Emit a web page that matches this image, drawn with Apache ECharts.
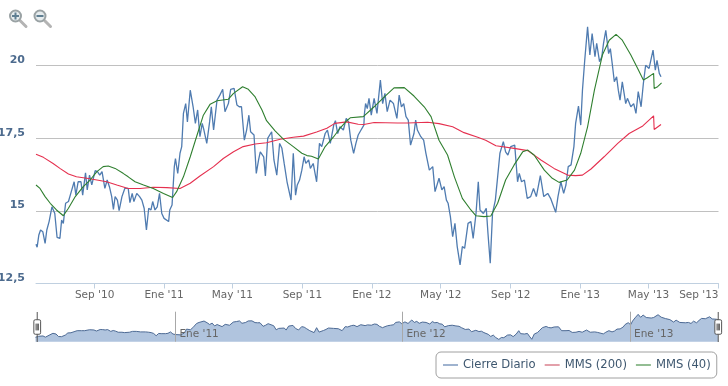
<!DOCTYPE html>
<html>
<head>
<meta charset="utf-8">
<style>
  html, body { margin: 0; padding: 0; background: #fff; }
  #chart { width: 728px; height: 386px; }
</style>
<script src="https://cdn.jsdelivr.net/npm/echarts@6/dist/echarts.min.js"></script>
</head>
<body>
<div id="chart"></div>
<script>
const fechaInicio = '2010-05-21'
const fechaFin = '2013-09-01'
const fechaUltimoDato = '2013-05-24'
const ticksPrincipal = ['2010-09-01', '2011-01-01', '2011-05-01', '2011-09-01', '2012-01-01', '2012-05-01', '2012-09-01', '2013-01-01', '2013-05-01', '2013-09-01']
const ticksNavegador = ['2011-01-01', '2012-01-01', '2013-01-01']
const ticksPrecio = [12.5, 15, 17.5, 20]
const meses = ['Ene', 'Feb', 'Mar', 'Abr', 'May', 'Jun', 'Jul', 'Ago', 'Sep', 'Oct', 'Nov', 'Dic']

// dias desde fechaInicio
const cierreDias = [0, 2, 5, 8, 12, 16, 19, 23, 28, 30, 33, 37, 42, 45, 48, 52, 57, 62, 67, 70, 74, 79, 82, 87, 90, 94, 98, 104, 108, 112, 116, 121, 125, 129, 133, 136, 139, 143, 146, 151, 156, 162, 165, 169, 172, 177, 182, 186, 190, 194, 198, 202, 205, 209, 213, 217, 221, 225, 228, 233, 235, 239, 243, 245, 249, 253, 256, 259, 263, 266, 271, 274, 276, 280, 284, 288, 292, 295, 300, 305, 308, 312, 315, 318, 323, 328, 332, 338, 342, 348, 353, 357, 361, 366, 370, 374, 377, 383, 387, 391, 394, 400, 403, 407, 410, 414, 418, 423, 428, 432, 436, 441, 443, 448, 452, 456, 459, 463, 467, 471, 474, 479, 482, 487, 493, 498, 502, 508, 512, 517, 523, 526, 530, 534, 540, 545, 549, 553, 558, 562, 566, 571, 576, 577, 579, 582, 585, 589, 594, 599, 605, 609, 613, 617, 622, 628, 634, 638, 642, 646, 650, 654, 658, 664, 667, 670, 676, 681, 685, 691, 697, 701, 708, 713, 717, 721, 724, 728, 732, 736, 740, 745, 749, 753, 759, 764, 768, 773, 777, 780, 786, 791, 794, 798, 802, 807, 811, 815, 821, 825, 829, 834, 841, 846, 849, 853, 858, 863, 869, 874, 879, 886, 892, 899, 904, 913, 917, 922, 927, 931, 935, 940, 945, 948, 953, 957, 960, 964, 969, 973, 977, 982, 985, 990, 994, 997, 1001, 1006, 1009, 1013, 1016, 1020, 1023, 1026, 1030, 1036, 1039, 1045, 1050, 1054, 1058, 1063, 1067, 1071, 1077, 1084, 1088, 1091, 1095, 1098]
const cierreValores = [13.85, 13.75, 14.17, 14.34, 14.28, 13.88, 14.34, 14.63, 15.14, 15.09, 14.91, 14.09, 14.05, 14.68, 14.57, 15.26, 15.32, 15.66, 16, 15.54, 16, 16, 15.54, 16.31, 15.72, 16.23, 15.89, 16.38, 16.35, 16.23, 16.35, 15.77, 16.06, 15.83, 15.49, 15.05, 15.49, 15.37, 15.01, 15.49, 15.77, 15.77, 15.28, 15.6, 15.32, 15.6, 15.49, 15.37, 15.09, 14.34, 15.09, 15.03, 15.32, 15.03, 15.14, 15.6, 14.91, 14.74, 14.8, 14.63, 15.03, 15.2, 16.52, 16.8, 16.29, 16.98, 17.21, 18.35, 18.69, 18.06, 19.15, 19.1, 18.58, 18.01, 18.47, 17.55, 18.01, 17.78, 17.32, 18.06, 18.58, 17.78, 17.78, 18.81, 18.98, 19.18, 18.41, 18.69, 19.18, 19.21, 18.64, 18.58, 18.58, 17.43, 17.78, 18.29, 17.72, 17.61, 16.29, 16.75, 17.03, 16.86, 16.2, 17.49, 17.43, 17.72, 16.75, 16.23, 17.32, 17.15, 16.63, 16, 15.95, 15.37, 16.98, 15.54, 15.89, 16.06, 16.4, 16.86, 16.63, 16.75, 16.46, 16.63, 16, 17.32, 17.21, 17.66, 17.78, 17.32, 17.95, 18.1, 17.66, 17.89, 17.78, 18.18, 18.06, 17.43, 16.98, 17.32, 17.61, 17.78, 17.95, 18.35, 18.69, 18.52, 18.87, 18.29, 18.87, 18.35, 19.5, 18.69, 19.04, 18.41, 18.81, 18.69, 18.18, 18.98, 18.58, 18.69, 18.24, 18.12, 17.26, 17.66, 18.12, 17.78, 17.55, 17.43, 16.98, 16.4, 16.52, 15.66, 16.12, 15.72, 15.83, 15.37, 15.26, 14.8, 14.11, 14.57, 13.77, 13.14, 13.77, 13.71, 14.57, 14.63, 14.05, 14.91, 16, 15.03, 14.91, 15.09, 14.23, 13.2, 14.91, 15.37, 16.17, 16.98, 17.38, 17.03, 16.92, 17.21, 17.26, 16, 16.29, 16, 16.06, 15.43, 15.49, 15.77, 15.49, 16.21, 15.49, 15.6, 15.43, 14.95, 15.49, 16, 15.6, 15.89, 16.52, 16.58, 17.21, 18.01, 18.6, 17.95, 19.15, 20.18, 21.33, 20.36, 21.1, 20.3, 20.76, 20.13, 20.3, 20.76, 21.21, 20.41, 20.58, 19.95, 19.44, 19.61, 19.15, 18.81, 19.44, 18.69, 18.87, 18.58, 18.69, 18.35, 19.1, 18.58, 19.38, 20.01, 19.9, 20.53, 19.84, 20.18, 19.73, 19.61]

const mms200Dias = [0, 13, 30, 42, 57, 71, 89, 107, 124, 142, 162, 183, 206, 230, 253, 271, 288, 312, 329, 347, 364, 385, 405, 429, 452, 470, 493, 511, 525, 546, 566, 576, 594, 635, 653, 688, 708, 732, 752, 776, 790, 808, 840, 864, 887, 910, 934, 948, 960, 975, 998, 1022, 1042, 1066, 1085, 1086, 1098]
const mms200Valores = [16.95, 16.84, 16.63, 16.46, 16.27, 16.17, 16.12, 16.06, 16, 15.89, 15.77, 15.77, 15.81, 15.8, 15.77, 15.95, 16.2, 16.52, 16.8, 17.03, 17.21, 17.3, 17.34, 17.46, 17.53, 17.57, 17.71, 17.84, 18.01, 18.06, 17.98, 17.97, 18.04, 18.02, 18.02, 18.05, 18, 17.89, 17.69, 17.53, 17.43, 17.24, 17.15, 17.07, 16.75, 16.46, 16.23, 16.21, 16.23, 16.44, 16.86, 17.32, 17.66, 17.92, 18.27, 17.8, 17.97]

const mms40Dias = [0, 7, 16, 25, 36, 48, 57, 69, 83, 95, 107, 118, 127, 139, 153, 162, 174, 189, 206, 224, 240, 247, 259, 271, 283, 294, 306, 318, 338, 347, 363, 373, 385, 397, 405, 420, 435, 452, 467, 476, 484, 496, 508, 523, 534, 546, 552, 575, 594, 612, 629, 647, 664, 682, 694, 708, 723, 735, 749, 764, 773, 787, 799, 811, 825, 840, 855, 864, 875, 893, 907, 919, 933, 946, 957, 969, 981, 995, 1007, 1019, 1030, 1045, 1057, 1067, 1074, 1085, 1086, 1092, 1099]
const mms40Valores = [15.89, 15.77, 15.49, 15.26, 15.03, 14.83, 15.09, 15.49, 15.83, 16.06, 16.35, 16.52, 16.54, 16.46, 16.29, 16.17, 16, 15.89, 15.77, 15.6, 15.46, 15.66, 16.17, 16.86, 17.61, 18.29, 18.67, 18.79, 18.84, 19.04, 19.27, 19.18, 18.92, 18.47, 18.1, 17.75, 17.46, 17.21, 16.98, 16.9, 16.88, 16.78, 17.21, 17.55, 17.84, 18.1, 18.2, 18.24, 18.58, 18.92, 19.23, 19.24, 18.95, 18.58, 18.24, 17.43, 16.92, 16.17, 15.43, 15.03, 14.83, 14.8, 14.82, 15.26, 16.06, 16.58, 17.03, 17.09, 16.92, 16.4, 16.12, 15.98, 16.06, 16.4, 16.98, 17.89, 19.15, 20.36, 20.87, 21.07, 20.87, 20.36, 19.9, 19.5, 19.58, 19.73, 19.21, 19.27, 19.4]

const UN_DIA = 86400000
const inicio = +new Date(fechaInicio)

function serie(dias, valores) {
  return dias.map((d, i) => [inicio + d * UN_DIA, valores[i]])
}

function etiquetaFecha(val) {
  const f = new Date(val)
  return meses[f.getUTCMonth()] + " '" + String(f.getUTCFullYear()).slice(2)
}

// botones de zoom arriba a la izquierda
function lupa(x, y, conMas) {
  const hijos = [
    { type: 'line', shape: { x1: 4.5, y1: 4.5, x2: 10.5, y2: 10.5 }, style: { stroke: '#b4b4b4', lineWidth: 3, lineCap: 'round' } },
    { type: 'circle', shape: { cx: 0, cy: 0, r: 5.5 }, style: { fill: '#e6ecee', stroke: '#9aa2a4', lineWidth: 2 } },
    { type: 'rect', shape: { x: -3.5, y: -1, width: 7, height: 2 }, style: { fill: '#5f7f92' } }
  ]
  if (conMas) {
    hijos.push({ type: 'rect', shape: { x: -1, y: -3.5, width: 2, height: 7 }, style: { fill: '#5f7f92' } })
  }
  return { type: 'group', x: x, y: y, children: hijos }
}

const ticksX = ticksPrincipal.map(d => +new Date(d))
const ticksNav = ticksNavegador.map(d => +new Date(d))

const chart = echarts.init(document.getElementById('chart'), null, { renderer: 'canvas' })

chart.setOption({
  animation: false,
  backgroundColor: '#fff',
  textStyle: { fontFamily: 'DejaVu Sans' },
  grid: [
    { left: 36, right: 9.5, top: 21.9, height: 261.6, outerBoundsMode: 'none' },
    { left: 35.5, right: 9, top: 312, height: 29.7, outerBoundsMode: 'none' }
  ],
  legend: {
    left: 436,
    top: 352,
    padding: [7, 6, 7, 7],
    borderColor: '#a0a0a0',
    borderWidth: 1,
    borderRadius: 5,
    itemWidth: 15,
    itemHeight: 2,
    itemGap: 9,
    textStyle: { color: '#3e576f', fontSize: 11.6 },
    data: [
      { name: 'Cierre Diario', icon: 'rect', itemStyle: { color: '#9fb3cf' } },
      { name: 'MMS (200)', icon: 'rect', itemStyle: { color: '#e3a0aa' } },
      { name: 'MMS (40)', icon: 'rect', itemStyle: { color: '#93bd93' } }
    ]
  },
  xAxis: [
    {
      type: 'value',
      gridIndex: 0,
      min: inicio,
      max: +new Date(fechaFin),
      splitLine: { show: false },
      axisLine: { lineStyle: { color: '#c0d0e0', width: 1 } },
      axisTick: { length: 5, customValues: ticksX, lineStyle: { color: '#c0d0e0' } },
      axisLabel: {
        customValues: ticksX,
        formatter: etiquetaFecha,
        color: '#666',
        fontSize: 10.5,
        margin: 6,
        alignMaxLabel: 'right'
      }
    },
    {
      type: 'value',
      gridIndex: 1,
      min: inicio,
      max: +new Date(fechaUltimoDato),
      z: 5,
      splitLine: { show: false },
      axisLine: { show: false },
      axisTick: { inside: true, length: 30, customValues: ticksNav, lineStyle: { color: '#a8a8a8' } },
      axisLabel: {
        inside: true,
        customValues: ticksNav,
        formatter: etiquetaFecha,
        color: '#666',
        fontSize: 10.5,
        align: 'left',
        margin: 2,
        padding: [0, 0, 0, 4]
      }
    }
  ],
  yAxis: [
    {
      type: 'value',
      gridIndex: 0,
      min: ticksPrecio[0],
      max: 21.5,
      interval: 2.5,
      axisLine: { show: false },
      axisTick: { show: false },
      splitLine: { showMinLine: false, showMaxLine: false, lineStyle: { color: '#c0c0c0', width: 1 } },
      axisLabel: {
        showMaxLabel: false,
        formatter: v => String(v).replace('.', ','),
        color: '#4d6b8e',
        fontWeight: 'bold',
        fontSize: 11,
        margin: 11,
        verticalAlign: 'bottom',
        lineHeight: 11
      }
    },
    { type: 'value', gridIndex: 1, min: 12.4, max: 22.1, show: false, splitLine: { show: false } }
  ],
  dataZoom: [
    {
      type: 'slider',
      xAxisIndex: 0,
      filterMode: 'none',
      left: 35.5,
      right: 9.5,
      top: 312,
      height: 30,
      start: 0,
      end: 100,
      showDetail: false,
      showDataShadow: false,
      brushSelect: false,
      moveHandleSize: 0,
      backgroundColor: 'transparent',
      borderColor: 'transparent',
      fillerColor: 'transparent',
      handleIcon: 'path://M4.5 0V8M4.5 23V31M2.5 8H6.5Q8 8 8 9.5V21.5Q8 23 6.5 23H2.5Q1 23 1 21.5V9.5Q1 8 2.5 8ZM3.3 12V19M4.5 12V19M5.7 12V19',
      handleSize: '100%',
      handleStyle: { color: '#fff', borderColor: '#555', borderWidth: 1 }
    }
  ],
  series: [
    {
      name: 'Cierre Diario',
      type: 'line',
      showSymbol: false,
      lineStyle: { color: '#4f7bb0', width: 1.3 },
      itemStyle: { color: '#4f7bb0' },
      data: serie(cierreDias, cierreValores)
    },
    {
      name: 'MMS (200)',
      type: 'line',
      showSymbol: false,
      lineStyle: { color: '#e5304f', width: 1.1 },
      itemStyle: { color: '#e5304f' },
      data: serie(mms200Dias, mms200Valores)
    },
    {
      name: 'MMS (40)',
      type: 'line',
      showSymbol: false,
      lineStyle: { color: '#2f7f2f', width: 1.1 },
      itemStyle: { color: '#2f7f2f' },
      data: serie(mms40Dias, mms40Valores)
    },
    {
      name: 'Navegador',
      type: 'line',
      xAxisIndex: 1,
      yAxisIndex: 1,
      showSymbol: false,
      silent: true,
      lineStyle: { color: '#4d6a94', width: 1 },
      areaStyle: { color: '#b0c4de', opacity: 1 },
      data: serie(cierreDias, cierreValores)
    }
  ],
  graphic: [
    lupa(15.5, 16, true),
    lupa(40, 16, false)
  ]
})
</script>
</body>
</html>
